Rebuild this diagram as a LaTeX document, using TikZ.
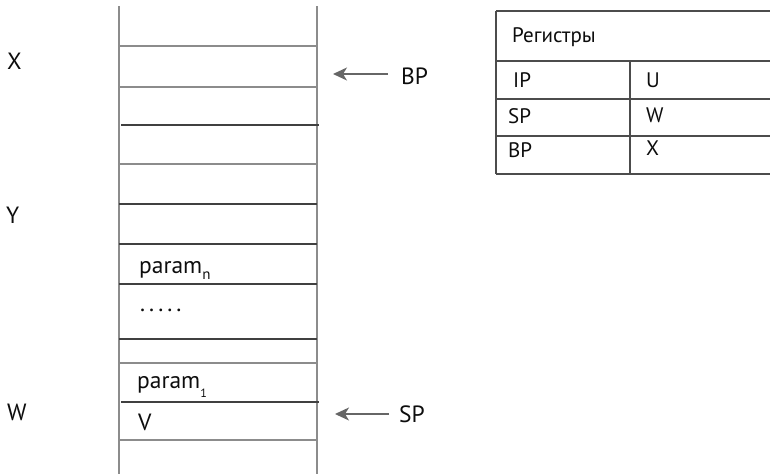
\documentclass[tikz,border=0pt]{standalone}
\usepackage{fontspec}
\setmainfont{PT Sans}
\usetikzlibrary{arrows.meta}
\begin{document}
\begin{tikzpicture}[x=1pt,y=-1pt,
 lab/.style={inner sep=0pt, anchor=base west, font=\fontsize{23.5}{23.5}\selectfont, text=black!95},
 tlab/.style={inner sep=0pt, anchor=base west, font=\fontsize{21}{21}\selectfont, text=black!95},
 gl/.style={draw=black!45, line width=1.2pt},
 dl/.style={draw=black!75, line width=1.2pt},
 tl/.style={draw=black!70, line width=1.2pt},
 arr/.style={draw=black!60, line width=1.5pt, -{Stealth[length=14pt,width=13pt,inset=4pt]}}]
\useasboundingbox (0,0) rectangle (770,474);
% stack
\draw[gl] (119,6) -- (119,474);
\draw[gl] (317,6) -- (317,474);
\foreach \y in {46,87,164,363,440} \draw[gl] (119,\y) -- (317,\y);
\foreach \y in {204,244,284,339} \draw[dl] (119,\y) -- (317,\y);
\foreach \y in {125,402} \draw[dl] (121,\y) -- (319,\y);
% stack contents
\node[lab] (pn) at (139,273) {param\raisebox{-6pt}{\fontsize{15}{15}\selectfont n}};
\node[lab] (dots) at (140,311) {.\hspace{4pt}.\hspace{4pt}.\hspace{4pt}.\hspace{4pt}.};
\node[lab] (p1) at (137,388) {param\raisebox{-9pt}{\fontsize{12}{12}\selectfont 1}};
\node[lab] (v) at (138,430) {V};
% left labels
\node[lab] (x) at (7,69) {X};
\node[lab] (yl) at (6,223) {Y};
\node[lab] (w) at (7,420) {W};
% pointers
\node[lab] (bp) at (401,84) {BP};
\node[lab] (sp) at (399,422) {SP};
\coordinate (bptail) at (388,74);
\coordinate (bptip) at (333,74);
\coordinate (sptail) at (389,414);
\coordinate (sptip) at (335,414);
\draw[arr] (bptail) -- (bptip);
\draw[arr] (sptail) -- (sptip);
% table
\foreach \y in {11,61,99,136,174} \draw[tl] (496,\y) -- (770,\y);
\draw[tl] (496,11) -- (496,174);
\draw[tl] (630,61) -- (630,174);
\node[tlab] (reg) at (512,42) {Регистры};
\node[tlab] (ip) at (513,87) {IP};
\node[tlab] (u) at (646,87) {U};
\node[tlab] (sp2) at (508,123) {SP};
\node[tlab] (w2) at (646,122) {W};
\node[tlab] (bp2) at (508,157) {BP};
\node[tlab] (x2) at (646,155) {X};
\end{tikzpicture}
\end{document}
